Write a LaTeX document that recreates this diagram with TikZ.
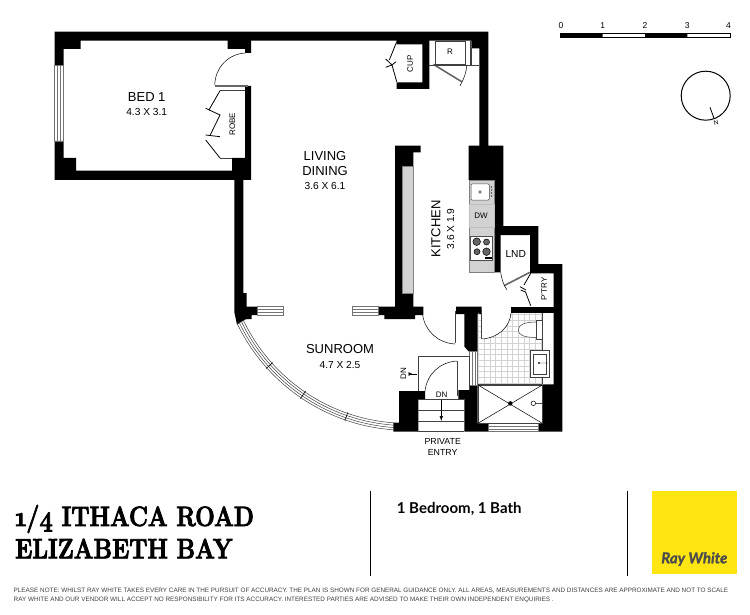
\documentclass[tikz,border=0pt]{standalone}
\usepackage{fontspec}
\setmainfont{Liberation Sans}
\newfontfamily\titlefont[Numbers=OldStyle,BoldFeatures={FakeStretch=0.83,FakeBold=2.8}]{Latin Modern Roman}
\newfontfamily\latofont[BoldItalicFeatures={FakeBold=1.5}]{Lato}
\usetikzlibrary{arrows.meta}
\definecolor{rayyellow}{HTML}{FFE512}
\definecolor{raygrey}{HTML}{4D4D4D}
\definecolor{tilegrey}{HTML}{D0D3D0}
\definecolor{benchgrey}{HTML}{D2D2D2}
\begin{document}
\begin{tikzpicture}[x=1pt,y=-1pt]
	\tikzset{wall/.style={fill=black,draw=none}}
	\tikzset{fitout/.style={draw=black!75,line width=0.5pt}}
	\tikzset{glazing/.style={draw=black!55,line width=0.5pt}}
	\tikzset{doorleaf/.style={draw=black!60,line width=1.6pt}}
	\tikzset{swing/.style={draw=black,line width=0.5pt}}
	\tikzset{bifold/.style={draw=black,line width=0.8pt}}
	\tikzset{room/.style={font=\fontsize{13}{15}\selectfont,inner sep=0pt}}
	\tikzset{roomsize/.style={font=\fontsize{10.2}{12}\selectfont,inner sep=0pt}}
	\tikzset{tag/.style={font=\fontsize{8}{10}\selectfont,inner sep=0pt}}
	\useasboundingbox (0,0) rectangle (750,615);
	\fill[white] (0,0) rectangle (750,615);
	% bed 1 and living walls
	\fill[wall] (54.7,31.7) -- (488.3,31.7) -- (488.3,145.7) -- (503.3,145.7) -- (503.3,226) -- (538.3,226) -- (538.3,264) -- (562.3,264) -- (562.3,431.7) -- (538.3,431.7) -- (538.3,423.3) -- (542.3,423.3) -- (542.3,384.3) -- (553.7,384.3) -- (553.7,273.3) -- (530,273.3) -- (530,235) -- (500.7,235) -- (500.7,272.3) -- (494.3,272.3) -- (494.3,180) -- (468.5,180) -- (468.5,145.7) -- (479.3,145.7) -- (479.3,48.3) -- (471.3,48.3) -- (471.3,40.7) -- (429.3,40.7) -- (429.3,89) -- (396.7,89) -- (396.7,82.3) -- (422.3,82.3) -- (422.3,44.3) -- (396.7,44.3) -- (396.7,40.7) -- (251,40.7) -- (251,53) -- (245,53) -- (245,49) -- (227.7,49) -- (227.7,40.7) -- (80.7,40.7) -- (80.7,49) -- (63.5,49) -- (63.5,65.7) -- (54.7,65.7) -- cycle;
	\fill[wall] (54.7,141) -- (63.5,141) -- (63.5,158) -- (76,158) -- (76,170.7) -- (232,170.7) -- (232,158) -- (245,158) -- (245,86) -- (251,86) -- (251,180) -- (243.3,180) -- (243.3,293) -- (246.7,293) -- (246.7,306.7) -- (257.3,306.7) -- (257.3,315) -- (251.7,315) -- (251.7,319) -- (245.7,319.3) -- (237,324.5) -- (234.3,312) -- (234.3,180) -- (54.7,180) -- cycle;
	% spine wall and its recess
	\fill[wall] (395,145.7) -- (420.7,145.7) -- (420.7,152.3) -- (413.3,152.3) -- (413.3,306.5) -- (423.3,306.5) -- (423.3,315) -- (415,315) -- (415,319) -- (384.3,319) -- (384.3,315) -- (378.3,315) -- (378.3,306.7) -- (395,306.7) -- cycle;
	\fill[benchgrey,draw=black!50,line width=0.3pt] (401.7,165.7) rectangle (413.3,293.3);
	% bathroom and entry blocks
	\fill[wall] (511,306.7) rectangle (554,313.3);
	\fill[wall] (456,306.7) -- (481.7,306.7) -- (481.7,314) -- (477.7,314) -- (477.7,351.7) -- (469,351.7) -- (464.3,346.7) -- (464.3,314) -- (456,314) -- cycle;
	\fill[wall] (469.3,385) -- (477.7,385) -- (477.7,423.3) -- (488.3,423.3) -- (488.3,431.7) -- (464.3,431.7) -- (464.3,399) -- (458.3,399) -- (458.3,390) -- (469.3,390) -- cycle;
	\fill[wall] (399,391) -- (425,391) -- (425,399) -- (418.3,399) -- (418.3,431.7) -- (393.3,431.7) -- (393.3,422.7) -- (399,422.7) -- cycle;
	% windows
	\draw[glazing] (54.7,65.7) rectangle (63.5,141) (57.7,65.7) -- (57.7,141) (60.5,65.7) -- (60.5,141);
	\draw[glazing] (257.3,306.7) rectangle (283.3,315) (257.3,309.5) -- (283.3,309.5) (257.3,312.2) -- (283.3,312.2);
	\draw[glazing] (352.3,306.7) rectangle (378.3,315) (352.3,309.5) -- (378.3,309.5) (352.3,312.2) -- (378.3,312.2);
	\draw[glazing] (469,351.7) rectangle (477.7,385) (472,351.7) -- (472,385) (474.8,351.7) -- (474.8,385);
	\draw[glazing] (488.3,423.3) rectangle (538.3,431.7) (488.3,426.2) -- (538.3,426.2) (488.3,429) -- (538.3,429);
	% curved window
	\foreach \r in {181,183.3,185.7,188}
		\draw[fitout] plot[domain=94:154.6,samples=50] ({406.7+\r*cos(\x)},{242.3+\r*sin(\x)});
	\foreach \a in {138.1,124.2,109.1}
		\draw[line width=0.6pt] ({406.7+180*cos(\a)},{242.3+180*sin(\a)}) -- ({406.7+189*cos(\a)},{242.3+189*sin(\a)});
	% bathroom
	\begin{scope}
		\clip (478.3,313.3) rectangle (542.3,384.3);
		\foreach \x in {0,...,11}
			\draw[tilegrey,line width=0.4pt] ({478.3+\x*5.7},313.3) -- ({478.3+\x*5.7},384.3);
		\foreach \y in {0,...,12}
			\draw[tilegrey,line width=0.4pt] (478.3,{314.5+\y*5.7}) -- (542.3,{314.5+\y*5.7});
		\fill[white] (482,310) -- (482,339) .. controls (498,338) and (510,327) .. (511,310) -- cycle;
	\end{scope}
	\draw[fitout] (478.3,384.3) -- (542.3,384.3) (542.3,313.3) -- (542.3,384.3);
	\draw[fitout,fill=white] (536.7,322) .. controls (524,322) and (518.3,325) .. (518.3,330) .. controls (518.3,335) and (524,337.5) .. (536.7,337.5) -- cycle;
	\draw[fitout,fill=white] (536.7,320.7) rectangle (542.3,339);
	\draw[fitout,fill=white] (530,350) rectangle (549.3,377.3);
	\draw[fitout,fill=white] (533,354) rectangle (546,374);
	\draw[line width=0.4pt] (539,363) circle (0.9) (540,363) -- (547,363) (547,361.5) -- (547,364.5);
	\draw[fitout] (478,385) rectangle (542.3,423.3);
	\draw[line width=0.5pt] (478,385) -- (542.3,423.3) (478,423.3) -- (542.3,385);
	\fill[black] (510.3,403.4) circle (2.2);
	\draw[line width=0.5pt,fill=white] (533.3,403.3) circle (2.3);
	\draw[line width=1.2pt,black!70] (535.6,403.3) -- (542,403.3);
	% doors
	\draw[doorleaf] (214.5,86) -- (248,86);
	\draw[swing] (214.8,85) .. controls (215,68) and (228,54) .. (245,53);
	\draw[doorleaf] (433.3,64.3) -- (461.7,81.7);
	\draw[swing] (460,85.7) .. controls (464,79) and (466.5,72) .. (466.7,65);
	\draw[doorleaf] (504,285.7) -- (530,272.3);
	\draw[swing] (500.7,272.3) .. controls (501.5,279) and (503.5,285) .. (507,290);
	\draw[fitout,line width=1.2pt] (455.5,310.7) -- (455.5,343.3);
	\draw[swing] (422.7,315) .. controls (425,331) and (438,343) .. (455,344);
	\draw[fitout,line width=1.2pt] (481.7,309.3) -- (481.7,339);
	\draw[swing] (482,339) .. controls (498,338) and (510,327) .. (511,313);
	\draw[fitout,line width=1.2pt] (457.5,361) -- (457.5,395.7);
	\draw[swing] (457,361) .. controls (440,362) and (427,374) .. (425,391);
	% robe and cupboards
	\draw[fitout] (220,90.7) -- (245,90.7) (220,158) -- (232,158);
	\draw[bifold] (220,90.7) -- (209.3,109.3) (205.7,108.3) -- (220,115) -- (210,135.5) (205.7,135) -- (220,136.7) (205.7,140) -- (220,158);
	\draw[bifold] (396.7,41.7) -- (389.3,60) (385.7,59) -- (392,65) -- (396,61.7) (385.7,67.3) -- (392,65) -- (396.7,81.7);
	\draw[bifold] (530.7,273.3) -- (524,285) (520,286.7) -- (526,290) (520.7,290) -- (525.5,292) -- (530.7,305.7);
	% fridge recess
	\draw[fitout] (435.3,41.7) rectangle (465.3,64.3);
	\draw[fitout] (429.3,65) -- (479.3,65) (471.3,48.3) -- (471.3,65) (470,40.7) -- (470,65);
	% kitchen bench
	\fill[benchgrey,draw=black!50,line width=0.3pt] (468.7,180) rectangle (494.3,272.3);
	\draw[fill=white,draw=black!70,rounded corners=1pt,line width=0.5pt] (471,184) rectangle (489.3,200);
	\draw[line width=0.4pt,fill=white] (480,192) circle (1.4);
	\foreach \y in {187,190,193,196}
		\fill[black!70] (491.5,\y) circle (0.8);
	\draw[fitout,draw=black!25] (469,204) rectangle (494,227);
	\draw[fill=white,draw=black!70,line width=0.5pt] (470.7,236.7) rectangle (492.7,260);
	\draw[fill=black!60,draw=black,line width=0.5pt] (476.7,241.7) circle (3.8) (477,251.7) circle (3) (486.5,242) circle (3) (486.5,251.7) circle (3.8);
	\fill[black] (484.5,257.3) rectangle (492,259);
	% entry and stairs
	\draw[fitout] (418.3,391) -- (418.3,356.7) -- (469.3,356.7) -- (469.3,390);
	\draw[fitout] (418.3,399) -- (464.3,399) (418.3,410.7) -- (464.3,410.7) (418.3,421) -- (464.3,421) (418.3,431.7) -- (464.3,431.7);
	\draw[-{Latex[length=5pt,width=3.5pt]},line width=0.5pt] (441.3,399.5) -- (441.3,421);
	\draw[{Latex[reversed,length=4pt,width=4pt]}-,line width=0.5pt] (408.5,374) -- (416.7,374);
	% labels
	\node[room] (bedname) at (146.7,97.3) {BED 1};
	\node[roomsize] (bedsize) at (146.7,112) {4.3 X 3.1};
	\node[room] (livingname) at (325,156) {LIVING};
	\node[room] (diningname) at (325,171) {DINING};
	\node[roomsize] (livingsize) at (325,186) {3.6 X 6.1};
	\node[room,rotate=90] (kitchenname) at (436,229) {KITCHEN};
	\node[roomsize,rotate=90] (kitchensize) at (450.7,229) {3.6 X 1.9};
	\node[room] (sunname) at (340,349.3) {SUNROOM};
	\node[roomsize] (sunsize) at (340,364.7) {4.7 X 2.5};
	\node[tag,font=\fontsize{10.2}{12}\selectfont] (lndname) at (515.7,254) {LND};
	\node[tag,rotate=90] (robename) at (232.3,124.3) {ROBE};
	\node[tag,rotate=90] (cupname) at (410,64) {CUP};
	\node[tag] (fridgename) at (450,52) {R};
	\node[tag] (dwname) at (481,216) {DW};
	\node[tag,rotate=90] (ptryname) at (544,289) {P'TRY};
	\node[tag] (dnlower) at (441.7,395) {DN};
	\node[tag,rotate=90] (dnupper) at (403.3,373.3) {DN};
	\node[tag,font=\fontsize{8.8}{10}\selectfont] (privatename) at (442.7,441.7) {PRIVATE};
	\node[tag,font=\fontsize{8.8}{10}\selectfont] (entryname) at (442.7,452.3) {ENTRY};
	% scale bar
	\fill[black] (560,33.3) rectangle (602.7,37.3) (645,33.3) rectangle (687.3,37.3);
	\draw[line width=0.4pt] (560,33.3) rectangle (730,37.3);
	\foreach \x/\t in {561/0,602.7/1,645/2,687.3/3,728.5/4}
		\node[tag,font=\fontsize{8.5}{10}\selectfont] (scale\t) at (\x,25.7) {\t};
	% compass
	\draw[line width=1pt] (705.7,95.7) circle (24.5);
	\draw[line width=0.8pt] (710,107.3) -- (714,118.3);
	\node[tag,font=\fontsize{6.5}{8}\selectfont,rotate=15] (northname) at (716,122.7) {N};
	% footer
	\node[anchor=base west,inner sep=0pt,font=\titlefont\bfseries\fontsize{28}{30}\selectfont] (titleone) at (15,526) {1/4 ITHACA ROAD};
	\node[anchor=base west,inner sep=0pt,font=\titlefont\bfseries\fontsize{28}{30}\selectfont] (titletwo) at (15,558.3) {ELIZABETH BAY};
	\draw[line width=1.5pt] (370.7,490.7) -- (370.7,576);
	\draw[line width=1.5pt] (627.3,490.7) -- (627.3,576);
	\node[anchor=west,inner sep=0pt,font=\latofont\bfseries\fontsize{15}{17}\selectfont] (bedbath) at (396.7,509) {1 Bedroom, 1 Bath};
	\fill[rayyellow] (652.3,490.7) rectangle (736.7,574);
	\node[inner sep=0pt,text=raygrey,font=\latofont\bfseries\itshape\fontsize{15}{17}\selectfont] (logotext) at (694.3,559) {Ray White};
	\node[anchor=west,inner sep=0pt,text=black!75,font=\fontsize{6.35}{8}\selectfont] (noteone) at (13.5,591) {PLEASE NOTE: WHILST RAY WHITE TAKES EVERY CARE IN THE PURSUIT OF ACCURACY. THE PLAN IS SHOWN FOR GENERAL GUIDANCE ONLY. ALL AREAS, MEASUREMENTS AND DISTANCES ARE APPROXIMATE AND NOT TO SCALE};
	\node[anchor=west,inner sep=0pt,text=black!75,font=\fontsize{6.35}{8}\selectfont] (notetwo) at (13.5,600) {RAY WHITE AND OUR VENDOR WILL ACCEPT NO RESPONSIBILITY FOR ITS ACCURACY. INTERESTED PARTIES ARE ADVISED TO MAKE THEIR OWN INDEPENDENT ENQUIRIES .};
\end{tikzpicture}
\end{document}
